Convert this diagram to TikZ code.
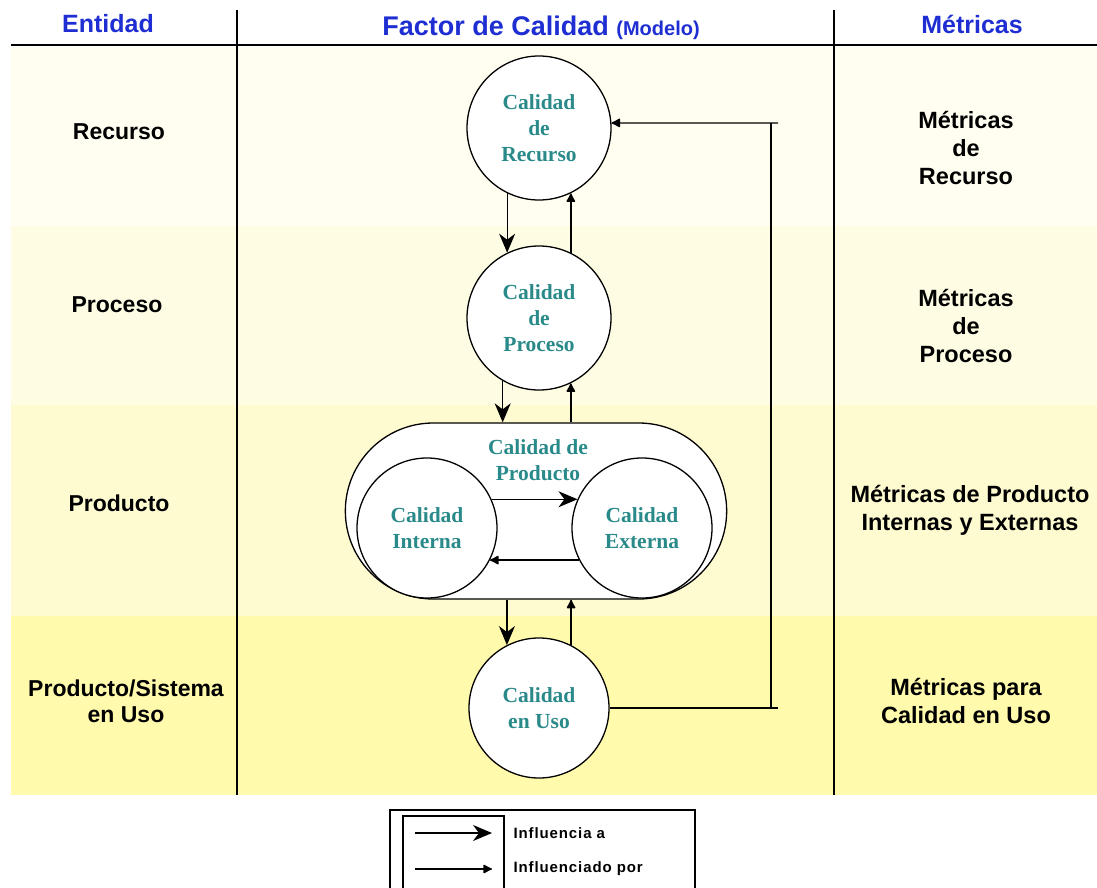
\documentclass[tikz,border=0pt]{standalone}
\usepackage{fontspec}
\setmainfont{Liberation Sans}
\newfontfamily\circfont{Liberation Serif}
\usetikzlibrary{arrows.meta,shapes.misc}
\definecolor{bandA}{HTML}{FFFEF0}
\definecolor{bandB}{HTML}{FEFDE4}
\definecolor{bandC}{HTML}{FFFBD0}
\definecolor{bandD}{HTML}{FFFAAC}
\definecolor{headblue}{HTML}{1E2ED2}
\definecolor{tealtxt}{HTML}{2A8A8A}
\begin{document}
\begin{tikzpicture}
		[x=1pt,y=-1pt,
		qual/.style={circle,draw,fill=white,line width=1.3pt,minimum size=144pt,inner sep=0pt,
			align=center,text=tealtxt,font=\circfont\bfseries\fontsize{21.5}{26}\selectfont},
		head/.style={text=headblue,font=\bfseries\fontsize{25}{28}\selectfont},
		ent/.style={align=center,font=\bfseries\fontsize{23}{26}\selectfont},
		metr/.style={align=center,font=\bfseries\fontsize{23.5}{28}\selectfont},
		wire/.style={line width=1.3pt},
		infa/.style={wire,-{Stealth[length=19pt,width=16pt,inset=6pt]}},
		infpor/.style={wire,-{Latex[length=10pt,width=10pt,round]}},
		legtxt/.style={anchor=west,font=\bfseries\fontsize{15}{17}\selectfont\addfontfeature{LetterSpace=6}}]
		\useasboundingbox (0,0) rectangle (1097,888);
		% bandas
		\fill[bandA] (11,47) rectangle (1097,226);
		\fill[bandB] (11,226) rectangle (1097,405);
		\fill[bandC] (11,405) rectangle (1097,616);
		\fill[bandD] (11,616) rectangle (1097,795);
		\draw[line width=2.2pt] (11,45) -- (1097,45);
		\draw[line width=1.6pt] (237,10) -- (237,795);
		\draw[line width=1.6pt] (834,10) -- (834,795);
		% cabecera
		\node[head,name=hEnt]at(108,24){Entidad};
		\node[head,font=\bfseries\fontsize{27}{30}\selectfont,name=hFac]at(541,28){Factor de Calidad {\fontsize{20}{22}\selectfont(Modelo)}};
		\node[head,name=hMet]at(972,24){Métricas};
		% entidades
		\node[ent,name=eRec]at(119,132){Recurso};
		\node[ent,name=eProc]at(117,305){Proceso};
		\node[ent,name=eProd]at(119,503){Producto};
		\node[ent,name=eUso]at(126,701){Producto/Sistema\\en Uso};
		% metricas
		\node[metr,name=mRec]at(966,148){Métricas\\de\\Recurso};
		\node[metr,name=mProc]at(966,326){Métricas\\de\\Proceso};
		\node[metr,name=mProd]at(970,510){Métricas de Producto\\Internas y Externas};
		\node[metr,name=mUso]at(966,701){Métricas para\\Calidad en Uso};
		% modelo
		\node[qual,name=rec]at(539,128){Calidad\\de\\Recurso};
		\node[qual,name=proc]at(539,318){Calidad\\de\\Proceso};
		\node[rounded rectangle,draw,fill=white,line width=1.3pt,minimum width=388pt,minimum height=176pt,name=prod]at(536,511){};
		\node[align=center,text=tealtxt,font=\circfont\bfseries\fontsize{21.5}{26}\selectfont,name=prodlbl]at(538,460){Calidad de\\Producto};
		\node[qual,minimum size=140pt,name=int]at(427,528){Calidad\\Interna};
		\node[qual,minimum size=140pt,name=ext]at(642,528){Calidad\\Externa};
		\node[qual,minimum size=140pt,name=uso]at(539,708){Calidad\\en Uso};
		\draw[infa] (rec.-116) -- (proc.116);
		\draw[infpor] (proc.64) -- (rec.-64);
		\draw[infa] (proc.-120) -- (proc.-120 |- prod.north);
		\draw[infpor] (proc.-64 |- prod.north) -- (proc.-64);
		\draw[infa] (uso.117 |- prod.south) -- (uso.117);
		\draw[infpor] (uso.63) -- (uso.63 |- prod.south);
		\draw[infa] (int.24) -- (ext.156);
		\draw[infpor] (ext.207) -- (int.-27);
		% retroalimentacion
		\coordinate (fbUso) at (778,708);
		\coordinate (fbRec) at (778,123);
		\draw[wire] (uso.east) -- (fbUso);
		\draw[wire] (771,708) -- (771,123);
		\draw[infpor] (fbRec) -- (rec.4);
		% leyenda
		\draw[line width=1.3pt] (390,810) rectangle (695,895);
		\draw[line width=1.3pt] (403,816) rectangle (504,895);
		\coordinate (lgA1) at (415,833);
		\coordinate (lgA2) at (492,833);
		\coordinate (lgB1) at (415,869);
		\coordinate (lgB2) at (492,869);
		\draw[infa] (lgA1) -- (lgA2);
		\draw[infpor] (lgB1) -- (lgB2);
		\node[legtxt,name=lgA]at(510,833){Influencia a};
		\node[legtxt,name=lgB]at(510,869){Influenciado por};
	\end{tikzpicture}
\end{document}
